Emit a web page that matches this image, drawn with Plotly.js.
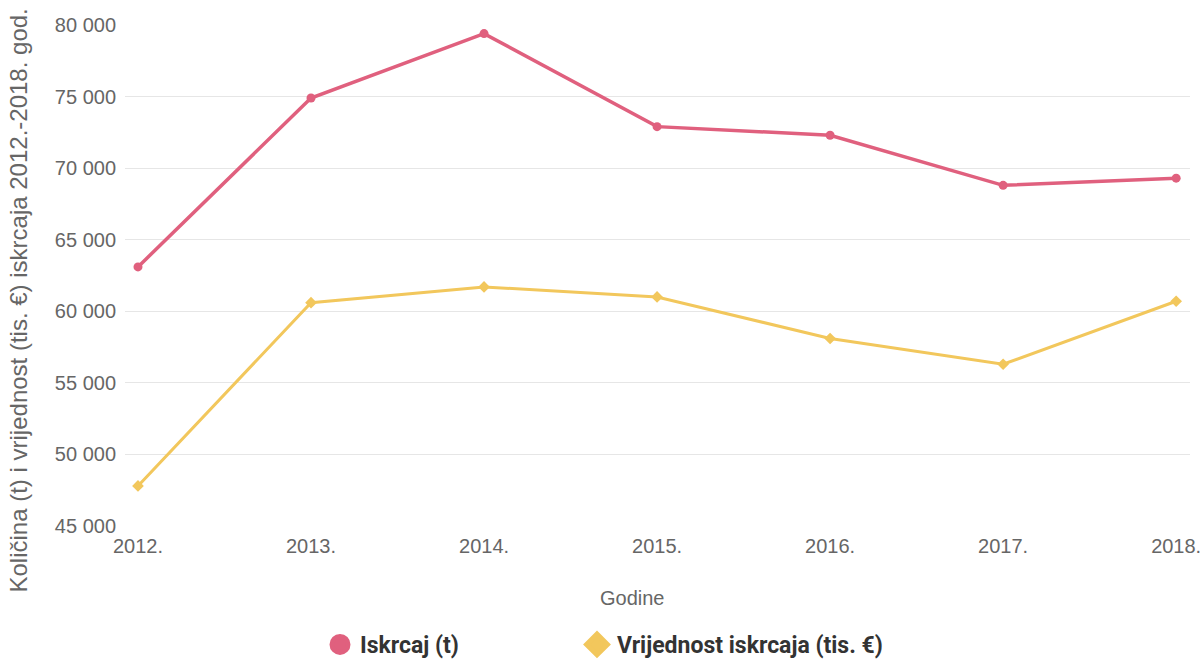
<!DOCTYPE html>
<html>
<head>
<meta charset="utf-8">
<script src="https://cdn.plot.ly/plotly-3.0.1.min.js"></script>
<style>html,body{margin:0;padding:0;background:#fff;}#chart{width:1204px;height:661px;}</style>
</head>
<body>
<div id="chart"></div>
<script>
const years = ["2012.", "2013.", "2014.", "2015.", "2016.", "2017.", "2018."];
const iskrcaj = [63100, 74900, 79400, 72900, 72300, 68800, 69300];
const vrijednost = [47800, 60600, 61700, 61000, 58100, 56300, 60700];
const yTicks = [45000, 50000, 55000, 60000, 65000, 70000, 75000, 80000];
const nameIskrcaj = "Iskrcaj (t)";
const nameVrijednost = "Vrijednost iskrcaja (tis. €)";
const xTitle = "Godine";
const yTitle = "Količina (t) i vrijednost (tis. €) iskrcaja 2012.-2018. god.";

const red = "#e0607e";
const yellow = "#f2c75c";

const xIdx = years.map((_, i) => i);

const traces = [
  {x: xIdx, y: iskrcaj, mode: "lines+markers", name: nameIskrcaj, showlegend: false,
   line: {color: red, width: 3.5}, marker: {color: red, size: 9, symbol: "circle"}},
  {x: xIdx, y: vrijednost, mode: "lines+markers", name: nameVrijednost, showlegend: false,
   line: {color: yellow, width: 3}, marker: {color: yellow, size: 9, symbol: "diamond"}},
  {x: [null], y: [null], mode: "markers", name: nameIskrcaj, showlegend: true, legend: "legend",
   marker: {color: red, size: 22, symbol: "circle", line: {color: red, width: 5}}},
  {x: [null], y: [null], mode: "markers", name: nameVrijednost, showlegend: true, legend: "legend2",
   marker: {color: yellow, size: 22, symbol: "diamond", line: {color: yellow, width: 5}}}
];

const legendFont = {family: "Roboto, sans-serif", size: 23, color: "#333", weight: "bold"};

const layout = {
  width: 1204, height: 661,
  margin: {l: 125, r: 14, t: 25, b: 135},
  paper_bgcolor: "#fff", plot_bgcolor: "#fff",
  font: {family: "Liberation Sans, Arial, sans-serif", color: "#666", size: 15},
  xaxis: {
    range: [-0.075, 6.08],
    tickmode: "array", tickvals: xIdx, ticktext: years,
    showgrid: false, zeroline: false, showline: false, ticks: "",
    tickfont: {size: 20, color: "#666"},
    ticklabelstandoff: 6
  },
  yaxis: {
    range: [45000, 80000],
    tickmode: "array", tickvals: yTicks,
    ticktext: yTicks.map(v => (v/1000) + " 000"),
    showgrid: true, gridcolor: "#e6e6e6", gridwidth: 1,
    zeroline: false, showline: false, ticks: "",
    tickfont: {size: 20, color: "#666"},
    ticklabelstandoff: 8
  },
  annotations: [
    {text: xTitle, xref: "paper", yref: "paper", x: 0.5, y: 0, xanchor: "center", yanchor: "middle",
     xshift: -25, yshift: -72, showarrow: false, font: {size: 20, color: "#666"}},
    {text: yTitle, xref: "paper", yref: "paper", x: 0, y: 0.5, xanchor: "center", yanchor: "middle",
     xshift: -107, yshift: -25, textangle: -90, showarrow: false, font: {size: 24, color: "#666"}}
  ],
  legend: {
    orientation: "h", xref: "container", x: 320 / 1204, xanchor: "left",
    yref: "container", y: 0.025, yanchor: "middle",
    font: legendFont, itemsizing: "trace"
  },
  legend2: {
    orientation: "h", xref: "container", x: 577 / 1204, xanchor: "left",
    yref: "container", y: 0.025, yanchor: "middle",
    font: legendFont, itemsizing: "trace"
  },
  showlegend: true
};

Plotly.newPlot("chart", traces, layout, {displayModeBar: false, staticPlot: true});
</script>
</body>
</html>
